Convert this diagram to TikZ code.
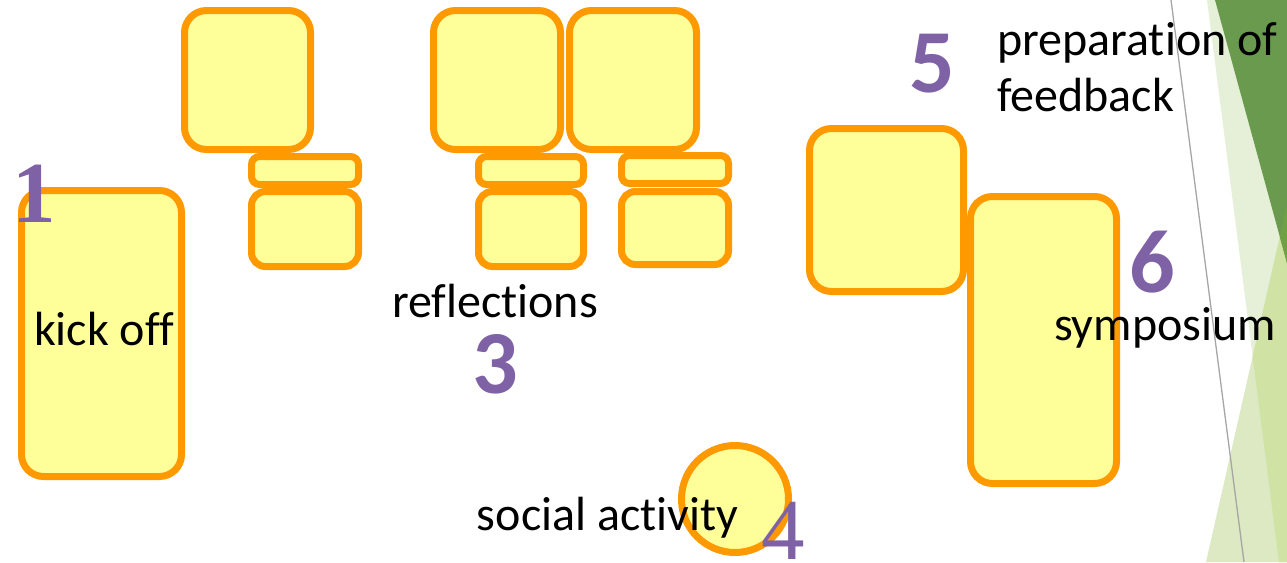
\documentclass[tikz,border=0pt]{standalone}
\usepackage{fontspec}
\setmainfont{Carlito}[Ligatures=NoCommon]
\newfontfamily\serifnum{Liberation Serif}
\definecolor{boxline}{HTML}{FF9900}
\definecolor{boxfill}{HTML}{FFFF99}
\definecolor{numpurple}{HTML}{7F62A6}
\definecolor{palegreen}{HTML}{E6EFD8}
\definecolor{darkgreen}{HTML}{6A9A4E}
\definecolor{lightgreen}{HTML}{DCE9C2}
\definecolor{lightpale}{HTML}{D0E2A4}
\definecolor{lightdark}{HTML}{6FA043}
\definecolor{thinline}{HTML}{A6A6A6}
\begin{document}
\begin{tikzpicture}[x=1pt,y=-1pt,
  box/.style={draw=boxline, fill=boxfill, line width=7pt, rounded corners=22pt, inner sep=0pt, outer sep=0pt},
  smallbox/.style={box, rounded corners=14pt},
  stripbox/.style={box, rounded corners=8pt},
  roundbox/.style={circle, draw=boxline, fill=boxfill, line width=7pt, inner sep=0pt, outer sep=0pt},
  lbl/.style={font=\fontsize{48}{56}\selectfont, anchor=base, inner sep=0pt},
  lblleft/.style={lbl, anchor=base west},
  num/.style={font=\fontsize{90}{100}\selectfont\bfseries, text=numpurple, anchor=base, inner sep=0pt},
  snum/.style={font=\fontsize{87}{100}\selectfont\serifnum, text=numpurple, anchor=base, inner sep=0pt}]
\useasboundingbox (0,0) rectangle (1287,562);
% decorative green facets on the right
\fill[palegreen] (1207,0) -- (1287,0) -- (1287,562) -- (1279,562) -- cycle;
\fill[lightgreen] (1206,562) -- (1287,205) -- (1287,562) -- cycle;
\begin{scope}
  \clip (1207,0) -- (1287,0) -- (1287,562) -- (1279,562) -- cycle;
  \fill[lightpale] (1206,562) -- (1287,205) -- (1287,562) -- cycle;
\end{scope}
\fill[darkgreen] (1215,0) -- (1287,0) -- (1287,263) -- cycle;
\begin{scope}
  \clip (1215,0) -- (1287,0) -- (1287,263) -- cycle;
  \fill[lightdark] (1206,562) -- (1287,205) -- (1287,562) -- cycle;
\end{scope}
\coordinate (g1) at (1171,0);
\coordinate (g2) at (1244,562);
\draw[thinline, line width=1.3pt] (g1) -- (g2);

% boxes
\node[box, minimum width=160pt, minimum height=286pt] (kick) at (101.5,333.5) {};
\node[box, minimum width=126pt, minimum height=139pt] (topA) at (247.5,80) {};
\node[box, minimum width=127pt, minimum height=139pt] (topB) at (497,80) {};
\node[box, minimum width=127pt, minimum height=139pt] (topC) at (633,80) {};
\node[stripbox, minimum width=107pt, minimum height=28pt] (stripA) at (305,170.5) {};
\node[smallbox, minimum width=107pt, minimum height=75pt] (lowA) at (305,229) {};
\node[stripbox, minimum width=105pt, minimum height=28pt] (stripB) at (531,170.5) {};
\node[smallbox, minimum width=105pt, minimum height=75pt] (lowB) at (531,229) {};
\node[stripbox, minimum width=107pt, minimum height=28pt] (stripC) at (675,169.5) {};
\node[smallbox, minimum width=107pt, minimum height=73pt] (lowC) at (675,228) {};
\node[box, minimum width=154pt, minimum height=163pt] (prep) at (886.5,210) {};
\node[box, minimum width=146pt, minimum height=287pt] (symp) at (1043.5,340) {};
\node[roundbox, minimum size=107pt] (social) at (735,499) {};

% texts
\node[lbl] (tkick) at (104,345) {kick off};
\node[lbl] (trefl) at (495,317) {reflections};
\node[lbl] (tsocial) at (607.5,530) {social activity};
\node[lblleft] (tprep) at (997,55) {preparation of};
\node[lblleft] (tfeed) at (997,111) {feedback};
\node[lbl] (tsymp) at (1165,340) {symposium};

% numbers
\node[snum, font=\fontsize{87}{100}\selectfont\serifnum\bfseries] (n1) at (34,222) {1};
\node[num] (n3) at (495,393) {3};
\node[snum] (n4) at (783,559) {4};
\node[num] (n5) at (932,92) {5};
\node[num] (n6) at (1152,292) {6};
\end{tikzpicture}
\end{document}
